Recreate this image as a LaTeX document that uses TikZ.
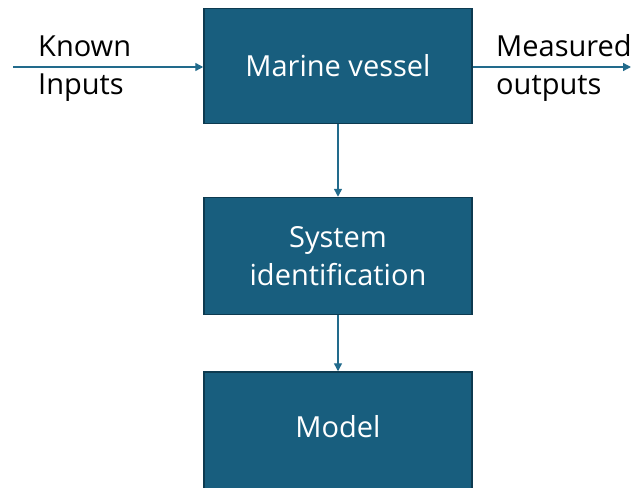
\documentclass[tikz,border=0pt]{standalone}
\usepackage{fontspec}
\setmainfont{Open Sans}
\usetikzlibrary{arrows.meta}
\definecolor{boxfill}{HTML}{185E7E}
\definecolor{boxline}{HTML}{0D3A50}
\definecolor{linkcol}{HTML}{226B8C}
\begin{document}
\begin{tikzpicture}[x=1pt,y=-1pt,
  txt/.style={font=\fontsize{29}{38.5}\selectfont},
  block/.style={txt, draw=boxline, line width=1.5pt, fill=boxfill, text=white,
    minimum width=268pt, align=center},
  label/.style={txt, align=left, anchor=west, inner sep=0pt},
  link/.style={draw=linkcol, line width=1.4pt, -{Triangle[length=8pt,width=8pt]}}]
\useasboundingbox (0,0) rectangle (631,487);
\node[block, minimum height=115pt] (vessel) at (338,66) {Marine vessel};
\node[block, minimum height=117pt] (sysid) at (338,256) {System\\identification};
\node[block, minimum height=130pt] (model) at (338,437) {};
\node[txt, text=white] (modeltxt) at (338,427) {Model};
\coordinate (inlet) at (13,67);
\coordinate (outlet) at (631,67);
\node[label] (known) at (38,68.5) {Known\\Inputs};
\node[label] (measured) at (496,68) {Measured\\outputs};
\draw[link] (inlet) -- (vessel.west |- inlet);
\draw[link] (vessel.east |- outlet) -- (outlet);
\draw[link] (vessel) -- (sysid);
\draw[link] (sysid) -- (model);
\end{tikzpicture}
\end{document}
